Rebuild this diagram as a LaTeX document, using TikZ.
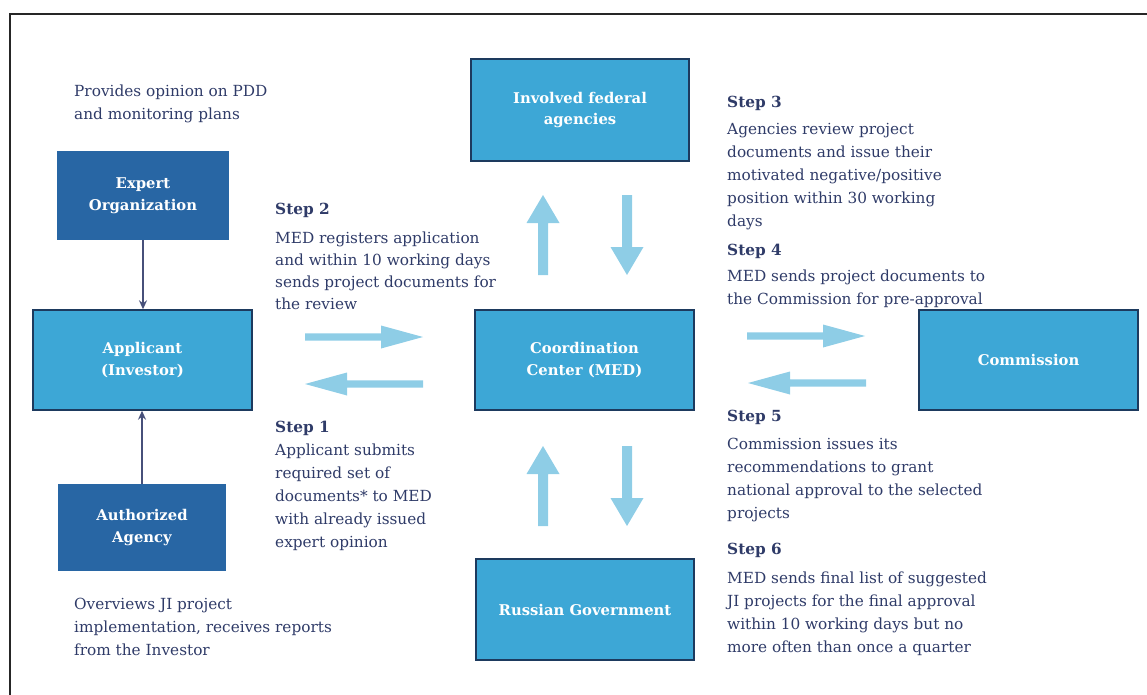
\documentclass[tikz,border=0pt]{standalone}
\usepackage{fontspec}
\setmainfont{DejaVu Serif}
\usetikzlibrary{arrows.meta}
\definecolor{darkbox}{HTML}{2866A4}
\definecolor{lightbox}{HTML}{3DA7D6}
\definecolor{boxedge}{HTML}{1D3A5E}
\definecolor{blockc}{HTML}{8ECDE6}
\definecolor{txt}{HTML}{2F3B68}
\definecolor{conn}{HTML}{47507A}
\tikzset{
  box/.style={rectangle, inner sep=2pt, align=center, text=white,
    font=\fontsize{14.8}{21.5}\selectfont\bfseries},
  darkb/.style={box, fill=darkbox},
  lightb/.style={box, fill=lightbox, draw=boxedge, line width=1.4pt},
  body/.style={anchor=base west, inner sep=0pt, align=left, text=txt,
    font=\fontsize{15.3}{23}\selectfont},
  head/.style={anchor=base west, inner sep=0pt, text=txt,
    font=\fontsize{15.3}{23}\selectfont\bfseries},
  thin/.style={draw=conn, line width=2pt, -{Stealth[length=9pt,width=8pt]}},
  hblock/.pic={\fill[blockc] (0,-3.7) -- (76,-3.7) -- (76,-11.5) -- (118,0) -- (76,11.5) -- (76,3.7) -- (0,3.7) -- cycle;},
  vblock/.pic={\fill[blockc] (0,-5) -- (52,-5) -- (52,-16.5) -- (80,0) -- (52,16.5) -- (52,5) -- (0,5) -- cycle;}
}
\begin{document}
\begin{tikzpicture}[x=1pt,y=-1pt]
\useasboundingbox (0,0) rectangle (1147,695);
% frame
\draw[line width=2pt, black!85] (10,695) -- (10,14) -- (1147,14);

% boxes
\node[darkb, minimum width=172pt, minimum height=89pt] (expert) at (143,195.5) {Expert\\Organization};
\node[lightb, minimum width=219pt, minimum height=100pt] (applicant) at (142.5,360) {Applicant\\(Investor)};
\node[darkb, minimum width=168pt, minimum height=87pt] (authorized) at (142,527.5) {Authorized\\Agency};
\node[lightb, minimum width=218pt, minimum height=102pt] (federal) at (580,110) {Involved federal\\agencies};
\node[lightb, minimum width=219pt, minimum height=100pt] (med) at (584.5,360) {Coordination\\Center (MED)};
\node[lightb, minimum width=219pt, minimum height=100pt] (commission) at (1028.5,360) {Commission};
\node[lightb, minimum width=218pt, minimum height=101pt] (government) at (585,609.5) {Russian Government};

% thin connectors
\draw[thin] (expert.south) -- (expert.south |- applicant.north);
\draw[thin] (authorized.north) -- (authorized.north |- applicant.south);

% block arrows
\pic at (305,337) {hblock};
\pic[rotate=180] at (423,384) {hblock};
\pic at (747,336) {hblock};
\pic[rotate=180] at (866,383) {hblock};
\pic[rotate=90] at (543,275) {vblock};
\pic[rotate=-90] at (627,195) {vblock};
\pic[rotate=90] at (543,526) {vblock};
\pic[rotate=-90] at (627,446) {vblock};

% texts (multi-line nodes: base anchor = last line's baseline)
\node[body] (t_expert) at (74,120) {Provides opinion on PDD\\and monitoring plans};
\node[body] (t_auth) at (74,655) {Overviews JI project\\implementation, receives reports\\from the Investor};

\node[head] (h2) at (275,214) {Step 2};
\node[body, font=\fontsize{15.3}{22}\selectfont] (b2) at (275,309) {MED registers application\\and within 10 working days\\sends project documents for\\the review};

\node[head] (h1) at (275,432) {Step 1};
\node[body] (b1) at (275,547) {Applicant submits\\required set of\\documents* to MED\\with already issued\\expert opinion};

\node[head] (h3) at (727,108) {Step 3};
\node[body] (b3) at (727,226) {Agencies review project\\documents and issue their\\motivated negative/positive\\position within 30 working\\days};

\node[head] (h4) at (727,255) {Step 4};
\node[body] (b4) at (727,304) {MED sends project documents to\\the Commission for pre-approval};

\node[head] (h5) at (727,421) {Step 5};
\node[body] (b5) at (727,518) {Commission issues its\\recommendations to grant\\national approval to the selected\\projects};

\node[head] (h6) at (727,554) {Step 6};
\node[body] (b6) at (727,652) {MED sends final list of suggested\\JI projects for the final approval\\within 10 working days but no\\more often than once a quarter};
\end{tikzpicture}
\end{document}
